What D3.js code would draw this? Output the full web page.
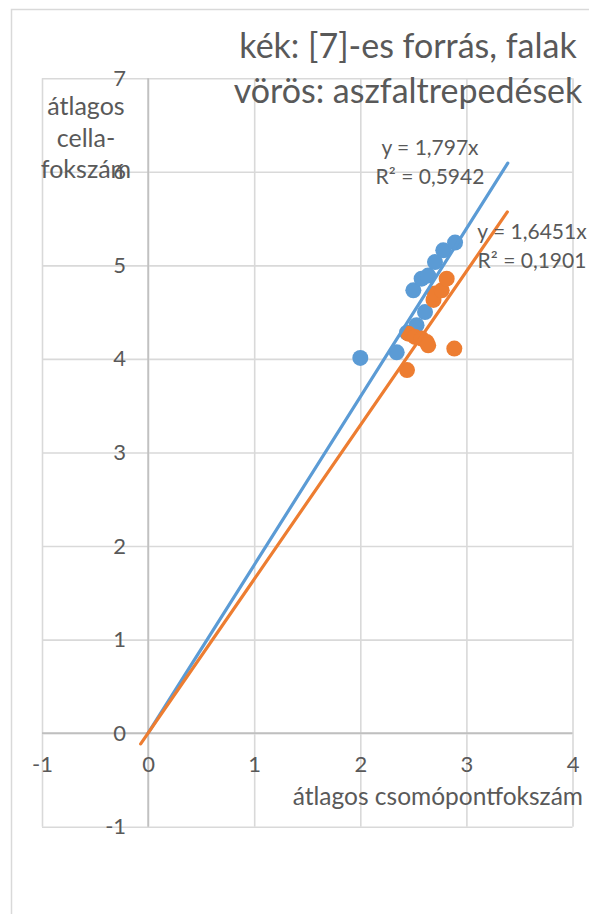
<!DOCTYPE html>
<html>
<head>
<meta charset="utf-8">
<script src="https://cdn.jsdelivr.net/npm/d3@7"></script>
<style>
  html, body { margin: 0; padding: 0; background: #ffffff; }
  svg { display: block; font-family: Lato, "Open Sans", sans-serif; }
</style>
</head>
<body>
<svg id="chart" width="589" height="914"></svg>
<script>
// ---- data ----
const titleLines = ["kék: [7]-es forrás, falak", "vörös: aszfaltrepedések"];
const xTitle = "átlagos csomópontfokszám";
const yTitleLines = ["átlagos", "cella-", "fokszám"];
const xTicks = [-1, 0, 1, 2, 3, 4];
const yTicks = [-1, 0, 1, 2, 3, 4, 5, 6, 7];
const seriesNames = ["falak", "aszfaltrepedések"];
const blueX = [2.00, 2.343, 2.44, 2.53, 2.61, 2.50, 2.578, 2.64, 2.704, 2.782, 2.893];
const blueY = [4.01, 4.07, 4.28, 4.36, 4.50, 4.733, 4.857, 4.89, 5.035, 5.16, 5.243];
const orangeX = [2.44, 2.886, 2.453, 2.515, 2.578, 2.626, 2.64, 2.69, 2.704, 2.767, 2.814];
const orangeY = [3.88, 4.11, 4.27, 4.235, 4.217, 4.18, 4.145, 4.63, 4.70, 4.733, 4.857];
const slopes = [1.797, 1.6451];
const trendFrom = [0, -0.07];
const trendTo = [3.39, 3.386];
const eqLabels = [["y = 1,797x", "R² = 0,5942"], ["y = 1,6451x", "R² = 0,1901"]];
const colors = ["#5B9BD5", "#ED7D31"];

// ---- layout ----
const svg = d3.select("#chart");
const textColor = "#595959";
const x = d3.scaleLinear().domain([-1, 4]).range([42, 572.5]);
const y = d3.scaleLinear().domain([-1, 7]).range([826.7, 78.2]);

// chart border
svg.append("rect").attr("x", 11.5).attr("y", 9.5).attr("width", 800).attr("height", 1200)
  .attr("fill", "#fff").attr("stroke", "#d9d9d9").attr("stroke-width", 1.5);

// gridlines
const gridX = svg.append("g").attr("transform", `translate(0,${y(-1)})`)
  .call(d3.axisBottom(x).tickValues(xTicks).tickSize(-(y(-1) - y(7))).tickFormat(""));
const gridY = svg.append("g").attr("transform", `translate(${x(-1)},0)`)
  .call(d3.axisLeft(y).tickValues(yTicks).tickSize(-(x(4) - x(-1))).tickFormat(""));
[gridX, gridY].forEach(g => {
  g.select(".domain").remove();
  g.selectAll(".tick line").attr("stroke", "#d9d9d9").attr("stroke-width", 1.6);
});

// main axes lines at 0
svg.append("line").attr("x1", x(0)).attr("x2", x(0)).attr("y1", y(7)).attr("y2", y(-1))
  .attr("stroke", "#bfbfbf").attr("stroke-width", 1.6);
svg.append("line").attr("x1", x(-1)).attr("x2", x(4)).attr("y1", y(0)).attr("y2", y(0))
  .attr("stroke", "#bfbfbf").attr("stroke-width", 1.6);

// axis labels
const fmt = d => String(d);
const ax = svg.append("g").attr("transform", `translate(0,${y(0)})`)
  .call(d3.axisBottom(x).tickValues(xTicks).tickSize(0).tickPadding(23).tickFormat(fmt));
const ay = svg.append("g").attr("transform", `translate(${x(0)},0)`)
  .call(d3.axisLeft(y).tickValues(yTicks).tickSize(0).tickPadding(22).tickFormat(fmt));
[ax, ay].forEach(g => {
  g.select(".domain").remove();
  g.selectAll(".tick text").attr("fill", textColor).style("font-size", "22px")
    .style("font-family", "Lato, sans-serif");
});

// y title
svg.append("g").selectAll("text").data(yTitleLines).join("text")
  .attr("x", 86).attr("y", (d, i) => 115 + i * 31.5)
  .attr("text-anchor", "middle").attr("fill", textColor).style("font-size", "25px")
  .text(d => d);

// bring y tick labels above the y title (as in reference)
ay.raise();

// x title
svg.append("text").attr("x", 583).attr("y", 805).attr("text-anchor", "end")
  .attr("fill", textColor).style("font-size", "24.5px").text(xTitle);

// title
svg.append("g").selectAll("text").data(titleLines).join("text")
  .attr("x", 408).attr("y", (d, i) => 58 + i * 45)
  .attr("text-anchor", "middle").attr("fill", textColor).style("font-size", "34px")
  .text(d => d);

// markers
const series = [
  { xs: blueX, ys: blueY },
  { xs: orangeX, ys: orangeY }
];
series.forEach((s, k) => {
  svg.append("g").selectAll("circle").data(s.xs.map((v, i) => [v, s.ys[i]])).join("circle")
    .attr("cx", d => x(d[0])).attr("cy", d => y(d[1])).attr("r", 8)
    .attr("fill", colors[k]);
});

// trendlines
series.forEach((s, k) => {
  const pts = [trendFrom[k], trendTo[k]].map(v => [x(v), y(slopes[k] * v)]);
  svg.append("path").attr("d", d3.line()(pts)).attr("stroke", colors[k])
    .attr("stroke-width", 3.2).attr("fill", "none").attr("stroke-linecap", "round");
});

// trend labels
const eqPos = [[430, 155], [532, 239]];
eqLabels.forEach((lines, k) => {
  svg.append("g").selectAll("text").data(lines).join("text")
    .attr("x", eqPos[k][0]).attr("y", (d, i) => eqPos[k][1] + i * 29)
    .attr("text-anchor", "middle").attr("fill", textColor).style("font-size", "21px")
    .text(d => d);
});
</script>
</body>
</html>
